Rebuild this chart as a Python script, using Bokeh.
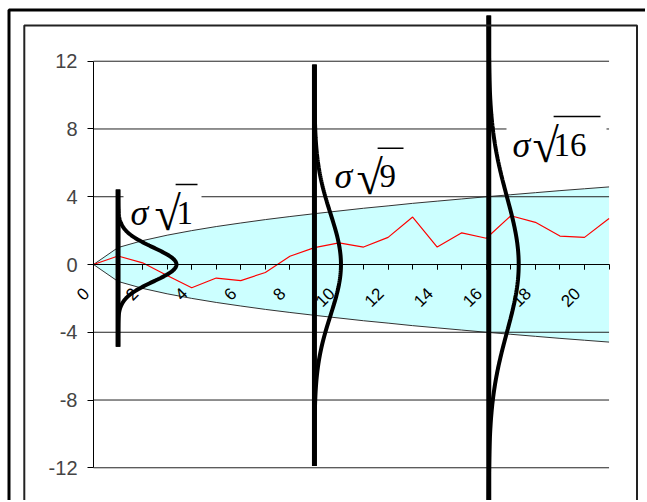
import math
import numpy as np
from bokeh.plotting import figure
from bokeh.models import Range1d, LinearAxis, FixedTicker
from bokeh.core.properties import value
from bokeh.embed import file_html
from bokeh.resources import INLINE

# ---------------- data ----------------
steps = list(range(22))
walk = [0.0, 0.5, 0.1, -0.65, -1.37, -0.8, -0.95, -0.47, 0.49, 1.0, 1.28,
        1.03, 1.6, 2.8, 1.03, 1.87, 1.55, 2.88, 2.49, 1.68, 1.6, 2.72]
band_upper = [0.0, 1.0, 1.41, 1.73, 2.0, 2.24, 2.45, 2.65, 2.83, 3.0, 3.16,
              3.32, 3.46, 3.61, 3.74, 3.87, 4.0, 4.12, 4.24, 4.36, 4.47, 4.58]
band_lower = [-v for v in band_upper]

x_tick_values = [0, 2, 4, 6, 8, 10, 12, 14, 16, 18, 20]
x_tick_labels = ["0", "2", "4", "6", "8", "10", "12", "14", "16", "18", "20"]
y_tick_values = [-12, -8, -4, 0, 4, 8, 12]
y_tick_labels = ["-12", "-8", "-4", "0", "4", "8", "12"]

curve_times = [1, 9, 16.1]
curve_sigmas = [1.0, 3.0, 4.0]
curve_heights = [2.38, 1.08, 1.22]
curve_tops = [4.43, 11.8, 14.7]
curve_bottoms = [-4.85, -11.9, -16.0]
curve_label_numbers = ["1", "9", "16"]

# ---------------- geometry (page pixels -> data) ----------------
W, H = 645, 500
PAGE = 1.0                # page offset of the canvas
OX, OY = 94.0, 265.0      # page px of data origin
SX, SY = 24.55, 16.94     # px per unit


def dx(px):
    return (px - OX) / SX


def dy(py):
    return (OY - py) / SY


p = figure(width=W, height=H, output_backend="svg", toolbar_location=None,
           x_range=Range1d(dx(PAGE), dx(PAGE + W)), y_range=Range1d(dy(PAGE + H), dy(PAGE)),
           x_axis_type=None, y_axis_type=None, min_border=0)
p.outline_line_color = None
p.background_fill_color = "white"
p.border_fill_color = "white"

# band
p.varea(x=steps, y1=band_lower, y2=band_upper, fill_color="#CCFFFF")
p.line(steps, band_upper, line_color="#333333", line_width=1)
p.line(steps, band_lower, line_color="#333333", line_width=1)

# gridlines
p.segment(x0=[0] * len(y_tick_values), x1=[21] * len(y_tick_values),
          y0=y_tick_values, y1=y_tick_values, line_color="#222222", line_width=1)

# random walk
p.line(steps, walk, line_color="#FF0000", line_width=1.2)

# axes: line + ticks
xaxis = LinearAxis(fixed_location=0, bounds=(0, 21),
                   ticker=FixedTicker(ticks=x_tick_values, minor_ticks=steps),
                   major_label_text_color=None, major_label_text_font_size="1px",
                   major_tick_out=5, major_tick_in=0, minor_tick_out=5, minor_tick_in=0,
                   axis_line_color="black", axis_line_width=1,
                   major_tick_line_color="black", minor_tick_line_color="black")
p.add_layout(xaxis, "below")

# category labels (Excel places rotated labels slightly left of the tick)
label_shift = 0.3
label_pos = [v - label_shift for v in x_tick_values]
xlab_axis = LinearAxis(fixed_location=0, bounds=(0, 21),
                       ticker=FixedTicker(ticks=label_pos, minor_ticks=[]),
                       major_label_overrides=dict(zip(label_pos, x_tick_labels)),
                       major_label_orientation=math.pi / 4,
                       major_tick_out=5, major_tick_in=0, minor_tick_out=0, minor_tick_in=0,
                       major_tick_line_color=None, axis_line_color=None,
                       major_label_standoff=21,
                       major_label_text_font="Liberation Sans",
                       major_label_text_font_size="17px", major_label_text_color="black")
p.add_layout(xlab_axis, "below")

yaxis = LinearAxis(fixed_location=0, bounds=(-12, 12),
                   ticker=FixedTicker(ticks=y_tick_values),
                   major_label_overrides=dict(zip(y_tick_values, y_tick_labels)),
                   major_tick_out=6, major_tick_in=0, minor_tick_out=0, minor_tick_in=0,
                   major_label_standoff=10,
                   major_label_text_font="Liberation Sans",
                   major_label_text_font_size="20px",
                   axis_line_color="black", axis_line_width=1,
                   major_tick_line_color="black")
p.add_layout(yaxis, "left")

# white boxes behind labels
boxes_px = [(124, 202, 172, 217), (329, 409, 138, 182), (507, 607, 107, 150)]
p.quad(left=[dx(b[0]) for b in boxes_px], right=[dx(b[1]) for b in boxes_px],
       top=[dy(b[2]) for b in boxes_px], bottom=[dy(b[3]) for b in boxes_px],
       fill_color="white", line_color=None)

# normal curves
for t, s, h, top, bot in zip(curve_times, curve_sigmas, curve_heights, curve_tops, curve_bottoms):
    p.segment(x0=[t], x1=[t], y0=[bot], y1=[top], line_color="black", line_width=5)
    yy = np.linspace(bot, top, 200)
    xx = t + h * np.exp(-yy ** 2 / (2 * s * s))
    p.line(xx, yy, line_color="black", line_width=4)

# labels sigma * sqrt(t)
lab_px = [  # sigma left, root left, number left, baseline, vinculum x1
    (131, 155, 177, 213, 198),
    (335, 357, 380, 176.7, 404),
    (513, 533, 554, 145, 601),
]
font = value("Liberation Serif")
root_size = 48
p.text(x=[dx(l[0]) for l in lab_px], y=[dy(l[3]) for l in lab_px], text=["\u03c3"] * 3,
       text_font=font, text_font_style="italic", text_font_size="36px",
       text_baseline="alphabetic", text_align="left", text_color="black")
p.text(x=[dx(l[1]) for l in lab_px], y=[dy(l[3] + 1) for l in lab_px], text=["\u221a"] * 3,
       text_font=font, text_font_size=f"{root_size}px",
       text_baseline="alphabetic", text_align="left", text_color="black")
p.text(x=[dx(l[2]) for l in lab_px], y=[dy(l[3]) for l in lab_px], text=curve_label_numbers,
       text_font=font, text_font_size="33px",
       text_baseline="alphabetic", text_align="left", text_color="black")
p.segment(x0=[dx(l[1] + 0.44 * root_size) for l in lab_px], x1=[dx(l[4]) for l in lab_px],
          y0=[dy(l[3] - 28) for l in lab_px], y1=[dy(l[3] - 28) for l in lab_px],
          line_color="black", line_width=1.5)

# chart borders
p.line([dx(9.5), dx(9.5), dx(700)], [dy(700), dy(10.5), dy(10.5)], line_color="black", line_width=3)
p.line([dx(24.8), dx(24.8), dx(637.5), dx(637.5)], [dy(700), dy(26), dy(26), dy(700)],
       line_color="#222222", line_width=2)

open("out.html", "w").write(file_html(p, INLINE))
